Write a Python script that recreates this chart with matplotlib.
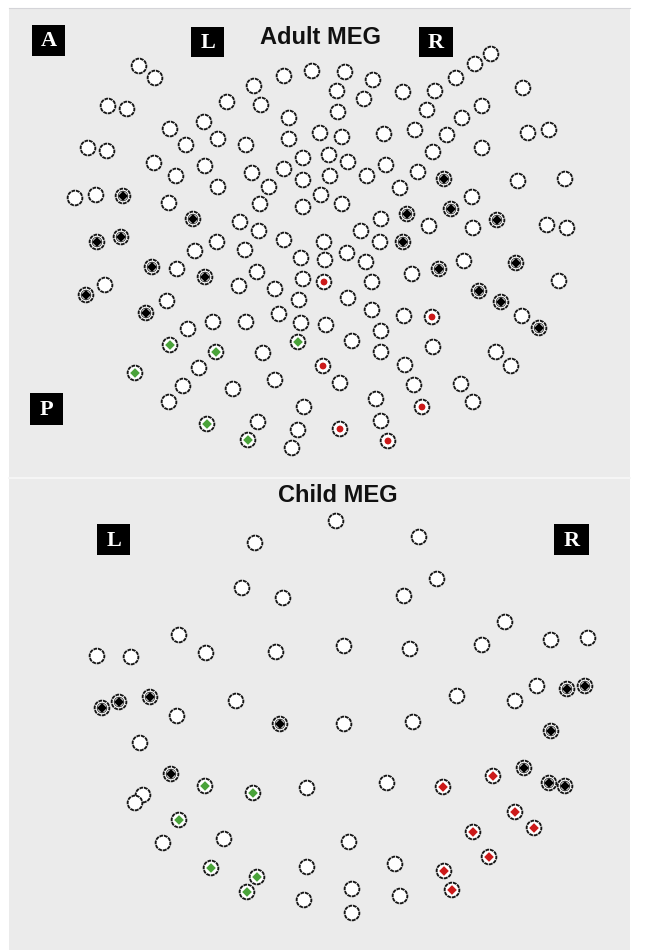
import matplotlib
matplotlib.use("Agg")
import matplotlib.pyplot as plt
from matplotlib.patches import Rectangle
import numpy as np

# ---------------- sensor layouts (pixel positions on the sheet) ----------------
# Adult MEG helmet: plain sensors
adult_open = [
    (139, 66), (155, 78), (108, 106), (127, 109), (88, 148), (107, 151), (75, 198), (96, 195), (105, 285),
    (170, 129), (204, 122), (227, 102), (254, 86), (261, 105), (284, 76), (312, 71), (345, 72), (373, 80),
    (337, 91), (364, 99), (403, 92), (435, 91), (456, 78), (475, 64), (491, 54), (523, 88), (427, 110),
    (482, 106), (462, 118), (289, 118), (338, 112), (289, 139), (320, 133), (342, 137), (384, 134),
    (415, 130), (447, 135), (528, 133), (549, 130), (482, 148), (433, 152),
    (218, 139), (246, 145), (186, 145), (154, 163), (176, 176), (205, 166), (252, 173), (284, 169),
    (303, 158), (329, 155), (348, 162), (386, 165), (418, 172),
    (303, 180), (330, 176), (367, 176), (400, 188), (472, 197), (518, 181), (565, 179),
    (269, 187), (218, 187), (321, 195), (342, 204), (303, 207), (260, 204), (169, 203),
    (381, 219), (429, 226), (473, 228), (547, 225), (567, 228), (240, 222), (259, 231), (361, 231),
    (217, 242), (245, 250), (284, 240), (324, 242), (380, 242), (195, 251),
    (177, 269), (301, 258), (325, 260), (347, 253), (366, 262), (257, 272), (412, 274), (464, 261),
    (559, 281), (239, 286), (275, 289), (303, 279), (372, 282),
    (299, 300), (348, 298), (372, 310), (404, 316), (167, 301), (188, 329), (213, 322), (246, 322),
    (279, 314), (301, 323), (326, 325), (381, 331), (522, 316),
    (352, 341), (381, 352), (263, 353), (433, 347), (496, 352), (511, 366), (405, 365), (199, 368),
    (183, 386), (233, 389), (275, 380), (340, 383), (414, 385), (461, 384), (169, 402), (376, 399),
    (304, 407), (473, 402),
    (258, 422), (298, 430), (381, 421), (292, 448),
]
# Adult MEG: highlighted sensor groups
adult_black = [
    (123, 196), (97, 242), (121, 237), (152, 267), (205, 277), (86, 295), (146, 313), (193, 219),
    (444, 179), (451, 209), (407, 214), (497, 220), (403, 242), (439, 269), (516, 263), (479, 291),
    (501, 302), (539, 328),
]
adult_red = [(324, 282), (323, 366), (432, 317), (422, 407), (340, 429), (388, 441)]
adult_green = [(170, 345), (216, 352), (298, 342), (135, 373), (207, 424), (248, 440)]

# Child MEG helmet: plain sensors
child_open = [
    (336, 521), (255, 543), (419, 537), (242, 588), (283, 598), (437, 579), (404, 596), (505, 622),
    (179, 635), (97, 656), (131, 657), (206, 653), (276, 652), (344, 646), (410, 649), (482, 645),
    (551, 640), (588, 638), (236, 701), (457, 696), (515, 701), (537, 686), (177, 716), (344, 724),
    (413, 722), (140, 743), (307, 788), (387, 783), (143, 795), (135, 803), (163, 843), (224, 839),
    (349, 842), (307, 867), (395, 864), (304, 900), (352, 889), (400, 896), (352, 913),
]
child_black = [
    (102, 708), (119, 702), (150, 697), (280, 724), (171, 774), (551, 731), (524, 768), (549, 783),
    (565, 786), (567, 689), (585, 686),
]
child_green = [(205, 786), (253, 793), (179, 820), (211, 868), (257, 877), (247, 892)]
child_red = [(493, 776), (443, 787), (515, 812), (534, 828), (473, 832), (489, 857), (444, 871), (452, 890)]

titles = ["Adult MEG", "Child MEG"]
orient_labels = ["A", "L", "R", "P", "L", "R"]

# ---------------- figure ----------------
W, H = 645, 950
fig = plt.figure(figsize=(W / 100, H / 100), dpi=100)
fig.patch.set_facecolor("white")
ax = fig.add_axes([0, 0, 1, 1])
ax.set_xlim(0, W)
ax.set_ylim(H, 0)
ax.axis("off")

panel_col = "#ebebeb"
ax.add_patch(Rectangle((9, 8), 621, 469, facecolor=panel_col, edgecolor="none", zorder=0))
ax.add_patch(Rectangle((9, 479), 621, 471, facecolor=panel_col, edgecolor="none", zorder=0))
ax.plot([9, 630], [8, 8], color="#d4d4d8", lw=0.8, zorder=0.5)
ax.plot([9, 630], [478, 478], color="#f4f4f4", lw=1.2, zorder=0.5)

ring_kw = dict(s=112, facecolors="white", edgecolors="#151515", linewidths=1.35,
               linestyles=[(0, (2.0, 0.45))], zorder=3)


def draw_group(points, dot_color=None, dot_marker="D", dot_size=18):
    arr = np.asarray(points, dtype=float)
    ax.scatter(arr[:, 0], arr[:, 1], **ring_kw)
    if dot_color is not None:
        ax.scatter(arr[:, 0], arr[:, 1], s=dot_size, marker=dot_marker,
                   color=dot_color, edgecolors="none", zorder=4)


def draw_inner_ring(points):
    arr = np.asarray(points, dtype=float)
    ax.scatter(arr[:, 0], arr[:, 1], s=48, facecolors="none", edgecolors="#333333",
               linewidths=0.6, zorder=3.5)


for grp, col, mk, sz in [
    (adult_open, None, "D", 0), (child_open, None, "D", 0),
    (adult_black, "#000000", "D", 26), (child_black, "#000000", "D", 26),
    (adult_green, "#4aa33a", "D", 24), (child_green, "#4aa33a", "D", 24),
    (adult_red, "#cc1a1a", "o", 24), (child_red, "#cc1a1a", "D", 24),
]:
    draw_group(grp, col, mk, sz)

draw_inner_ring(adult_black)
draw_inner_ring(child_black)

# titles
ax.text(321, 37, titles[0], ha="center", va="center", fontsize=17, fontweight="bold",
        family="Liberation Sans", color="#111111", zorder=5)
ax.text(338, 495, titles[1], ha="center", va="center", fontsize=17, fontweight="bold",
        family="Liberation Sans", color="#111111", zorder=5)

# orientation boxes: (left, top, width, height)
boxes = [(32, 25, 33, 31), (191, 27, 33, 30), (419, 27, 34, 30), (30, 393, 33, 32),
         (97, 524, 33, 31), (554, 524, 35, 31)]
for lab, (bx, by, bw, bh) in zip(orient_labels, boxes):
    ax.add_patch(Rectangle((bx, by), bw, bh, facecolor="black", edgecolor="none", zorder=5))
    ax.text(bx + bw / 2, by + bh / 2 + 1, lab, ha="center", va="center", fontsize=16,
            fontweight="bold", family="Liberation Serif", color="white", zorder=6)

fig.savefig("out.png", dpi=100, facecolor=fig.get_facecolor())
